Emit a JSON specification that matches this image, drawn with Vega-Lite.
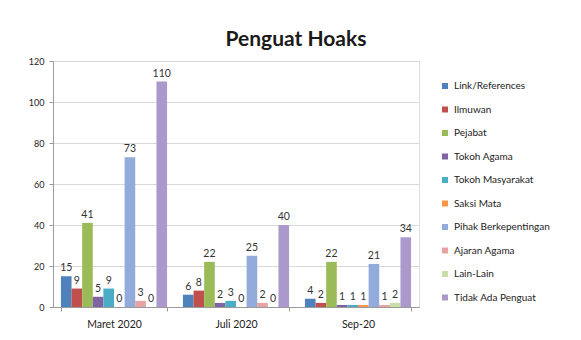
{
  "$schema": "https://vega.github.io/schema/vega-lite/v6.json",
  "autosize": {"type": "none"},
  "width": 366,
  "height": 246,
  "padding": {"left": 53, "top": 61, "right": 162, "bottom": 33},
  "background": "white",
  "title": {
    "text": "Penguat Hoaks",
    "font": "Lato",
    "fontSize": 21,
    "fontWeight": "bold",
    "color": "#1a1a1a",
    "anchor": "middle",
    "frame": "group",
    "dx": 60,
    "offset": 7
  },
  "data": {
    "values": [
      {"periode": "Maret 2020", "penguat": "Link/References", "jumlah": 15},
      {"periode": "Maret 2020", "penguat": "Ilmuwan", "jumlah": 9},
      {"periode": "Maret 2020", "penguat": "Pejabat", "jumlah": 41},
      {"periode": "Maret 2020", "penguat": "Tokoh Agama", "jumlah": 5},
      {"periode": "Maret 2020", "penguat": "Tokoh Masyarakat", "jumlah": 9},
      {"periode": "Maret 2020", "penguat": "Saksi Mata", "jumlah": 0},
      {"periode": "Maret 2020", "penguat": "Pihak Berkepentingan", "jumlah": 73},
      {"periode": "Maret 2020", "penguat": "Ajaran Agama", "jumlah": 3},
      {"periode": "Maret 2020", "penguat": "Lain-Lain", "jumlah": 0},
      {"periode": "Maret 2020", "penguat": "Tidak Ada Penguat", "jumlah": 110},
      {"periode": "Juli 2020", "penguat": "Link/References", "jumlah": 6},
      {"periode": "Juli 2020", "penguat": "Ilmuwan", "jumlah": 8},
      {"periode": "Juli 2020", "penguat": "Pejabat", "jumlah": 22},
      {"periode": "Juli 2020", "penguat": "Tokoh Agama", "jumlah": 2},
      {"periode": "Juli 2020", "penguat": "Tokoh Masyarakat", "jumlah": 3},
      {"periode": "Juli 2020", "penguat": "Saksi Mata", "jumlah": 0},
      {"periode": "Juli 2020", "penguat": "Pihak Berkepentingan", "jumlah": 25},
      {"periode": "Juli 2020", "penguat": "Ajaran Agama", "jumlah": 2},
      {"periode": "Juli 2020", "penguat": "Lain-Lain", "jumlah": 0},
      {"periode": "Juli 2020", "penguat": "Tidak Ada Penguat", "jumlah": 40},
      {"periode": "Sep-20", "penguat": "Link/References", "jumlah": 4},
      {"periode": "Sep-20", "penguat": "Ilmuwan", "jumlah": 2},
      {"periode": "Sep-20", "penguat": "Pejabat", "jumlah": 22},
      {"periode": "Sep-20", "penguat": "Tokoh Agama", "jumlah": 1},
      {"periode": "Sep-20", "penguat": "Tokoh Masyarakat", "jumlah": 1},
      {"periode": "Sep-20", "penguat": "Saksi Mata", "jumlah": 1},
      {"periode": "Sep-20", "penguat": "Pihak Berkepentingan", "jumlah": 21},
      {"periode": "Sep-20", "penguat": "Ajaran Agama", "jumlah": 1},
      {"periode": "Sep-20", "penguat": "Lain-Lain", "jumlah": 2},
      {"periode": "Sep-20", "penguat": "Tidak Ada Penguat", "jumlah": 34}
    ]
  },
  "encoding": {
    "x": {
      "field": "periode",
      "type": "nominal",
      "sort": ["Maret 2020", "Juli 2020", "Sep-20"],
      "scale": {"paddingInner": 0.13, "paddingOuter": 0.065},
      "axis": {
        "title": null,
        "labelAngle": 0,
        "labelFont": "Lato",
        "labelFontSize": 10.5,
        "labelColor": "#222",
        "labelPadding": 8,
        "domainColor": "#9a9a9a",
        "tickColor": "#9a9a9a",
        "tickSize": 4,
        "tickBand": "extent",
        "grid": false
      }
    },
    "xOffset": {
      "field": "penguat",
      "type": "nominal",
      "sort": ["Link/References", "Ilmuwan", "Pejabat", "Tokoh Agama", "Tokoh Masyarakat", "Saksi Mata", "Pihak Berkepentingan", "Ajaran Agama", "Lain-Lain", "Tidak Ada Penguat"]
    },
    "y": {
      "field": "jumlah",
      "type": "quantitative",
      "scale": {"domain": [0, 120]},
      "axis": {
        "title": null,
        "values": [0, 20, 40, 60, 80, 100, 120],
        "labelFont": "Lato",
        "labelFontSize": 9,
        "labelColor": "#222",
        "labelPadding": 5,
        "domainColor": "#9a9a9a",
        "tickColor": "#9a9a9a",
        "tickSize": 4,
        "gridColor": "#d9d9d9"
      }
    }
  },
  "layer": [
    {
      "mark": {"type": "bar"},
      "encoding": {
        "color": {
          "field": "penguat",
          "type": "nominal",
          "scale": {
            "domain": ["Link/References", "Ilmuwan", "Pejabat", "Tokoh Agama", "Tokoh Masyarakat", "Saksi Mata", "Pihak Berkepentingan", "Ajaran Agama", "Lain-Lain", "Tidak Ada Penguat"],
            "range": ["#4F81BD", "#C0504D", "#9BBB59", "#8064A2", "#4BACC6", "#F79646", "#92ABDB", "#E6A3A1", "#C9DDA8", "#AB99CB"]
          },
          "legend": {
            "title": null,
            "orient": "none",
            "legendX": 387,
            "legendY": 20,
            "symbolType": "square",
            "symbolSize": 36,
            "symbolStrokeWidth": 0,
            "labelFont": "Lato",
            "labelFontSize": 10,
            "labelColor": "#222",
            "labelLimit": 200,
            "rowPadding": 13.5
          }
        }
      }
    },
    {
      "mark": {"type": "text", "dy": -8, "font": "Lato", "fontSize": 10.5, "color": "#333"},
      "encoding": {"text": {"field": "jumlah", "type": "quantitative"}}
    }
  ]
}
